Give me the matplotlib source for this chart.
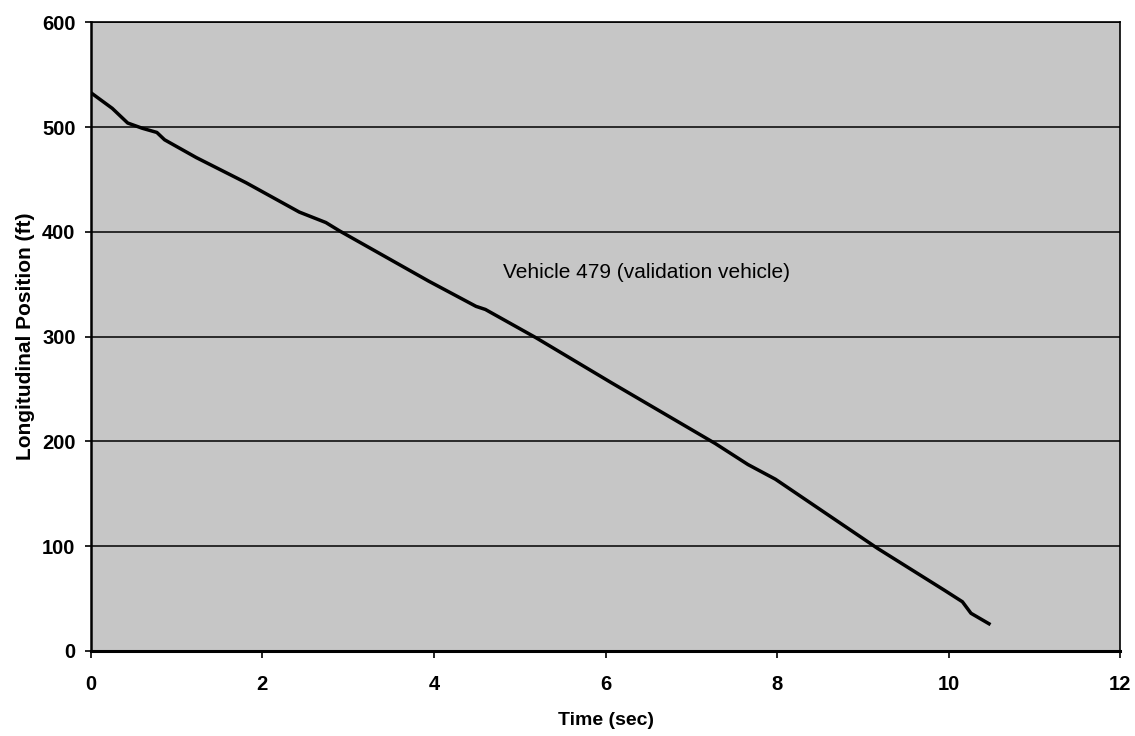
import matplotlib.pyplot as plt

# values
time_s = [0.0, 0.25, 0.43, 0.6, 0.77, 0.86, 1.23, 1.81, 2.43, 2.74, 2.9,
          3.94, 4.49, 4.6, 5.19, 6.07, 7.28, 7.66, 7.98, 9.17, 9.95,
          10.16, 10.26, 10.47]
position_ft = [533, 518, 504, 499, 495, 488, 471, 447, 419, 409, 401,
               353, 329, 326, 299, 256, 198, 178, 164, 98, 58,
               47, 36, 26]
x_ticks = [0, 2, 4, 6, 8, 10, 12]
y_ticks = [0, 100, 200, 300, 400, 500, 600]
label_text = "Vehicle 479 (validation vehicle)"

plt.rcParams['font.family'] = ['Liberation Sans', 'DejaVu Sans']

fig = plt.figure(figsize=(11.35, 7.36), dpi=100)
ax = fig.add_axes([0.080, 0.1155, 0.907, 0.854])
ax.set_facecolor('#c6c6c6')

ax.plot(time_s, position_ft, color='black', linewidth=2.5, zorder=3)

ax.set_xlim(0, 12)
ax.set_ylim(0, 600)
ax.set_xticks(x_ticks)
ax.set_yticks(y_ticks)
ax.yaxis.grid(True, color='black', linewidth=1.1)
ax.set_axisbelow(True)

ax.tick_params(axis='x', direction='out', length=5, width=1.2, pad=12,
               labelsize=14.5)
ax.tick_params(axis='y', direction='out', length=4, width=1.2, pad=7,
               labelsize=14.5)
for lab in ax.get_xticklabels() + ax.get_yticklabels():
    lab.set_fontweight('bold')

ax.spines['left'].set_linewidth(1.8)
ax.spines['bottom'].set_linewidth(2.2)
ax.spines['top'].set_linewidth(1.2)
ax.spines['right'].set_linewidth(1.2)

ax.set_xlabel("Time (sec)", fontsize=14, fontweight='bold', labelpad=13)
ax.set_ylabel("Longitudinal Position (ft)", fontsize=15, fontweight='bold',
              labelpad=5)

ax.text(4.81, 361, label_text, fontsize=15, va='center', ha='left')

fig.savefig("out.png", dpi=100)
